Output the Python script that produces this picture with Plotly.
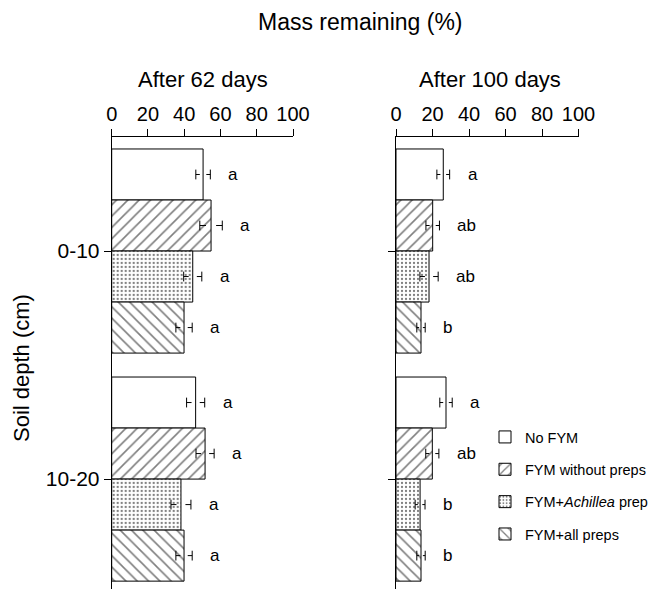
import plotly.graph_objects as go

# ---------------- data ----------------
depths = ["0-10", "10-20"]
treatments = ["No FYM", "FYM without preps", "FYM+<i>Achillea</i> prep", "FYM+all preps"]

mass_62 = [[50.4, 46.3], [54.8, 51.5], [44.7, 38.2], [39.9, 39.9]]
err_62 = [[4.0, 5.0], [6.2, 5.0], [5.0, 5.5], [4.5, 4.5]]
letters_62 = [["a", "a"], ["a", "a"], ["a", "a"], ["a", "a"]]

mass_100 = [[25.9, 27.4], [20.1, 19.9], [18.1, 13.2], [13.7, 13.7]]
err_100 = [[3.5, 3.4], [3.7, 3.6], [5.0, 2.7], [2.3, 2.3]]
letters_100 = [["a", "a"], ["ab", "ab"], ["ab", "b"], ["b", "b"]]

xticks = [0, 20, 40, 60, 80, 100]

# ---------------- styling ----------------
FONT = "Arial, 'Liberation Sans', sans-serif"
OFF = 8  # page body margin
W, H = 659 - OFF, 589 - OFF


def px(x):
    return (x - OFF) / W


def py(y):
    return 1 - (y - OFF) / H


patterns = [
    dict(shape=""),
    dict(shape="/", size=8, solidity=0.2, fgcolor="black", bgcolor="white"),
    dict(shape=".", size=4, solidity=0.25, fgcolor="black", bgcolor="white"),
    dict(shape="\\", size=8, solidity=0.2, fgcolor="black", bgcolor="white"),
]
group_width = 0.895
bw = group_width / len(treatments)
offsets = [(i - (len(treatments) - 1) / 2) * bw for i in range(len(treatments))]

fig = go.Figure()

panels = [
    ("x", "y", mass_62, err_62, letters_62, True),
    ("x2", "y2", mass_100, err_100, letters_100, False),
]

annotations = []
for xa, ya, vals, errs, lets, show in panels:
    for i, name in enumerate(treatments):
        ypos = [g + offsets[i] for g in range(len(depths))]
        fig.add_trace(go.Bar(
            x=vals[i], y=ypos, width=bw, orientation="h",
            marker=dict(color="white", line=dict(color="black", width=1),
                        pattern=patterns[i]),
            name=name, legendgroup=name, showlegend=show,
            xaxis=xa, yaxis=ya, hoverinfo="skip",
        ))
    # error bars (caps with short stubs, as in the original)
    for i in range(len(treatments)):
        sx, sy, cx, cy = [], [], [], []
        for g in range(len(depths)):
            v, e = vals[i][g], errs[i][g]
            yy = g + offsets[i]
            s = 0.55 * e
            sx += [v - e, v - e + s, None, v + e - s, v + e, None]
            sy += [yy, yy, None, yy, yy, None]
            cx += [v - e, v + e]
            cy += [yy, yy]
            annotations.append(dict(
                x=v + e, y=yy, xref=xa, yref=ya, text=lets[i][g],
                showarrow=False, xanchor="left", yanchor="middle", xshift=16,
                font=dict(family=FONT, size=17, color="black")))
        fig.add_trace(go.Scatter(x=sx, y=sy, mode="lines",
                                 line=dict(color="black", width=1),
                                 xaxis=xa, yaxis=ya, showlegend=False, hoverinfo="skip"))
        fig.add_trace(go.Scatter(x=cx, y=cy, mode="markers",
                                 marker=dict(symbol="line-ns", size=7,
                                             line=dict(color="black", width=1)),
                                 xaxis=xa, yaxis=ya, showlegend=False, hoverinfo="skip"))

xcommon = dict(range=[0, 100], tickvals=xticks, side="top", ticks="outside", ticklen=7,
               tickcolor="black", showline=True, linecolor="black", linewidth=1,
               showgrid=False, zeroline=False, automargin=False,
               tickfont=dict(family=FONT, size=20, color="black"))
ycommon = dict(range=[1.482, -0.5], tickvals=list(range(len(depths))), ticks="outside",
               ticklen=7, tickcolor="black", showline=True, linecolor="black",
               linewidth=1, showgrid=False, zeroline=False, automargin=False,
               domain=[py(589), py(137)])


def label(text, x, y, size=22, angle=0):
    return dict(text=text, x=px(x), y=py(y), xref="paper", yref="paper",
                xanchor="center", yanchor="middle", showarrow=False, textangle=angle,
                font=dict(family=FONT, size=size, color="black"))


annotations += [
    label("Mass remaining (%)", 361, 22, 23),
    label("After 62 days", 203, 79),
    label("After 100 days", 490, 79),
    label("Soil depth (cm)", 21, 368, 22, -90),
]

fig.update_layout(
    width=W, height=H,
    margin=dict(l=0, r=0, t=0, b=0),
    paper_bgcolor="white", plot_bgcolor="white",
    barmode="overlay",
    xaxis=dict(domain=[px(111.7), px(293)], anchor="y", **xcommon),
    yaxis=dict(anchor="x", ticktext=depths,
               tickfont=dict(family=FONT, size=21, color="black"), **ycommon),
    xaxis2=dict(domain=[px(396), px(578.5)], anchor="y2", **xcommon),
    yaxis2=dict(anchor="x2", showticklabels=False, **ycommon),
    legend=dict(x=px(485), y=py(421), xanchor="left", yanchor="top",
                font=dict(family=FONT, size=14.5, color="black"),
                tracegroupgap=10.5, bgcolor="rgba(0,0,0,0)"),
    annotations=annotations,
    font=dict(family=FONT, color="black"),
)

fig.write_html("out.html")
